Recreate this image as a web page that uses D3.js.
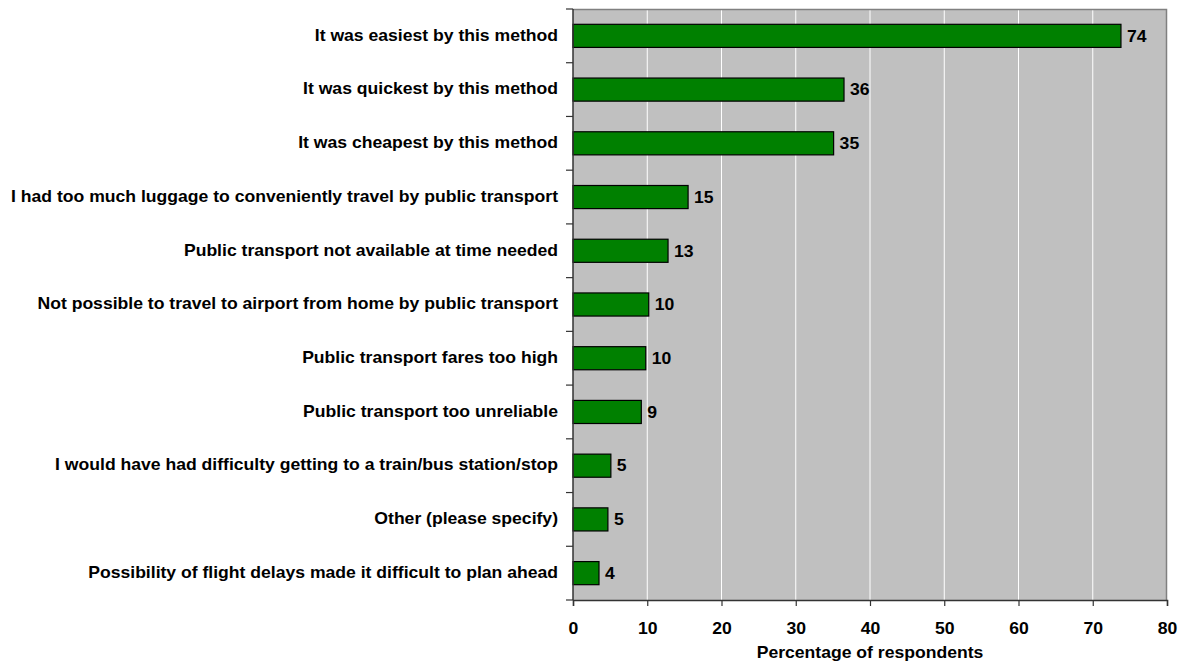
<!DOCTYPE html>
<html><head><meta charset="utf-8">
<script src="https://cdn.jsdelivr.net/npm/d3@7"></script>
<style>body{margin:0;background:#fff}svg{display:block}text{font-family:"Liberation Sans",Arial,sans-serif;font-weight:bold;fill:#000}</style>
</head><body>
<script>
const categories = [
  "It was easiest by this method",
  "It was quickest by this method",
  "It was cheapest by this method",
  "I had too much luggage to conveniently travel by public transport",
  "Public transport not available at time needed",
  "Not possible to travel to airport from home by public transport",
  "Public transport fares too high",
  "Public transport too unreliable",
  "I would have had difficulty getting to a train/bus station/stop",
  "Other (please specify)",
  "Possibility of flight delays made it difficult to plan ahead"
];
const values = [73.8, 36.5, 35.1, 15.5, 12.8, 10.2, 9.8, 9.2, 5.1, 4.7, 3.5];
const valueLabels = ["74","36","35","15","13","10","10","9","5","5","4"];
const xTicks = [0,10,20,30,40,50,60,70,80];
const xTitle = "Percentage of respondents";

const W = 1182, H = 663;
const m = {left: 573, right: 15, top: 9, bottom: 63};
const iw = W - m.left - m.right, ih = H - m.top - m.bottom;
const FS = 16, SX = 1.1;

const svg = d3.select("body").append("svg").attr("width", W).attr("height", H);
const g = svg.append("g").attr("transform", `translate(${m.left},${m.top})`);

const x = d3.scaleLinear().domain([0, 80]).range([0, iw]);
const y = d3.scaleBand().domain(categories).range([0, ih]).paddingInner(0.57).paddingOuter(0.285);

g.append("rect").attr("width", iw).attr("height", ih).attr("fill", "#c0c0c0");
g.selectAll("line.grid").data(xTicks.slice(1, -1)).join("line")
  .attr("x1", d => x(d)).attr("x2", d => x(d)).attr("y1", 0).attr("y2", ih)
  .attr("stroke", "#fff").attr("stroke-width", 1);
g.append("path").attr("d", `M0,0.5H${iw - 0.5}V${ih}`).attr("fill", "none").attr("stroke", "#808080").attr("stroke-width", 1.5);

g.selectAll("rect.bar").data(values).join("rect").attr("class", "bar")
  .attr("x", 0).attr("y", (d, i) => y(categories[i]))
  .attr("width", d => x(d)).attr("height", y.bandwidth())
  .attr("fill", "#008000").attr("stroke", "#000").attr("stroke-width", 1.2);

g.selectAll("text.val").data(values).join("text").attr("class", "val")
  .attr("transform", (d, i) => `translate(${x(d) + 6},${y(categories[i]) + y.bandwidth() / 2}) scale(${SX},1)`)
  .attr("dy", "0.36em").attr("font-size", FS).text((d, i) => valueLabels[i]);

// y axis with ticks at band boundaries
const yb = d3.range(categories.length + 1).map(i => i * ih / categories.length);
g.append("line").attr("x1", 0).attr("x2", 0).attr("y1", 0).attr("y2", ih).attr("stroke", "#333").attr("stroke-width", 1.5);
g.selectAll("line.ytick").data(yb).join("line")
  .attr("x1", -7).attr("x2", 0).attr("y1", d => d).attr("y2", d => d).attr("stroke", "#333").attr("stroke-width", 1.2);
g.selectAll("text.cat").data(categories).join("text").attr("class", "cat")
  .attr("transform", d => `translate(-15,${y(d) + y.bandwidth() / 2 - 1}) scale(${SX},1)`)
  .attr("dy", "0.36em").attr("text-anchor", "end").attr("font-size", FS).text(d => d);

// x axis
const xa = g.append("g").attr("transform", `translate(0,${ih})`)
  .call(d3.axisBottom(x).tickValues(xTicks).tickSize(6).tickFormat(d3.format("d")));
xa.select(".domain").attr("stroke", "#333").attr("stroke-width", 1.5);
xa.selectAll(".tick line").attr("stroke", "#333").attr("stroke-width", 1.2);
xa.selectAll(".tick text").attr("y", 34).attr("dy", null).attr("transform", `scale(${SX},1)`)
  .attr("font-size", FS).attr("font-family", '"Liberation Sans",Arial,sans-serif').attr("font-weight", "bold").attr("fill", "#000");

svg.append("text").attr("transform", `translate(${m.left + iw / 2},658) scale(${SX},1)`).attr("text-anchor", "middle")
  .attr("font-size", FS).text(xTitle);
</script>
</body></html>
